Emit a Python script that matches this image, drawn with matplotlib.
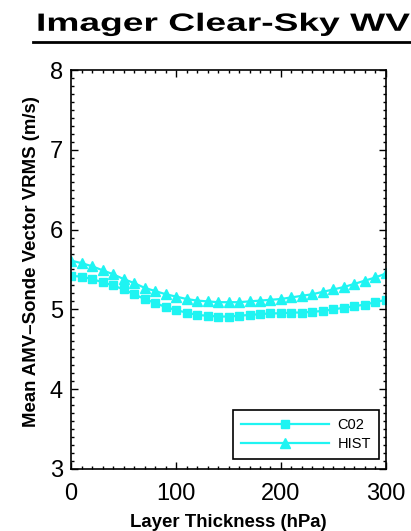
import matplotlib
matplotlib.use('Agg')
import matplotlib.pyplot as plt
from matplotlib.ticker import MultipleLocator
from matplotlib.patheffects import AbstractPathEffect
from matplotlib.transforms import Affine2D

plt.rcParams['font.family'] = ['Liberation Sans', 'DejaVu Sans']

# Layer thickness (hPa) and mean vector RMS (m/s) for each height method
thickness = [0, 10, 20, 30, 40, 50, 60, 70, 80, 90, 100, 110, 120, 130, 140, 150,
             160, 170, 180, 190, 200, 210, 220, 230, 240, 250, 260, 270, 280, 290, 300]
vrms_c02 = [5.42, 5.41, 5.38, 5.34, 5.30, 5.25, 5.19, 5.13, 5.08, 5.03, 4.99,
            4.96, 4.93, 4.92, 4.91, 4.91, 4.92, 4.93, 4.94, 4.95, 4.95, 4.96,
            4.96, 4.97, 4.98, 5.00, 5.02, 5.04, 5.06, 5.09, 5.12]
vrms_hist = [5.61, 5.58, 5.54, 5.49, 5.44, 5.38, 5.33, 5.27, 5.23, 5.19, 5.16,
             5.13, 5.11, 5.10, 5.09, 5.09, 5.09, 5.10, 5.11, 5.12, 5.13, 5.15,
             5.17, 5.19, 5.22, 5.25, 5.28, 5.32, 5.36, 5.40, 5.45]
series_labels = ['C02', 'HIST']

cyan = '#1ff4f2'


class HStretch(AbstractPathEffect):
    """Widen drawn text horizontally about a fixed display x."""
    def __init__(self, sx, cx):
        super().__init__()
        self.sx, self.cx = sx, cx

    def draw_path(self, renderer, gc, tpath, affine, rgbFace=None):
        stretch = Affine2D().translate(-self.cx, 0).scale(self.sx, 1).translate(self.cx, 0)
        renderer.draw_path(gc, tpath, affine + stretch, rgbFace)


fig = plt.figure(figsize=(4.11, 5.31), dpi=100)
ax = fig.add_axes([0.173, 0.117, 0.766, 0.751])

ax.plot(thickness, vrms_c02, '-s', color=cyan, lw=1.6, ms=5.5, label=series_labels[0])
ax.plot(thickness, vrms_hist, '-^', color=cyan, lw=1.6, ms=7, label=series_labels[1])

ax.set_xlim(0, 300)
ax.set_ylim(3, 8)
ax.xaxis.set_major_locator(MultipleLocator(100))
ax.xaxis.set_minor_locator(MultipleLocator(10))
ax.yaxis.set_major_locator(MultipleLocator(1))
ax.yaxis.set_minor_locator(MultipleLocator(0.1))
ax.tick_params(which='both', direction='in', top=True, right=True, width=1)
ax.tick_params(which='major', length=5, labelsize=17)
ax.tick_params(axis='x', which='major', pad=10)
ax.tick_params(axis='y', which='major', pad=6)
ax.tick_params(which='minor', length=2.5)
for s in ax.spines.values():
    s.set_linewidth(1.2)

ax.set_xlabel('Layer Thickness (hPa)', fontsize=13.4, fontweight='bold', labelpad=7)
ax.set_ylabel('Mean AMV\u2013Sonde Vector VRMS (m/s)', fontsize=13.4, fontweight='bold')
ax.yaxis.set_label_coords(-0.098, 0.521)

leg = ax.legend(loc='lower right', bbox_to_anchor=(1 - 7 / 315, 10 / 399),
                fontsize=10.5, handlelength=6.0, handletextpad=0.6,
                fancybox=False, edgecolor='black', framealpha=1,
                borderaxespad=0, borderpad=0.55, labelspacing=0.3)
leg.get_frame().set_linewidth(1.2)

# underlined, widened title
fig_w = fig.get_figwidth() * fig.dpi
x_left, x_right = 36.0, 410.0
title = fig.text((x_left + x_right) / 2 / fig_w, 0.942, 'Imager Clear-Sky WV',
                 ha='center', va='baseline', fontsize=18, fontweight='bold')
fig.canvas.draw()
bb = title.get_window_extent()
cx = (bb.x0 + bb.x1) / 2
title.set_path_effects([HStretch((x_right - x_left) / bb.width, cx)])
fig.add_artist(plt.Line2D([(x_left - 3) / fig_w, x_right / fig_w], [0.921, 0.921],
                          transform=fig.transFigure, color='black', lw=2))

fig.savefig('out.png', dpi=100)
